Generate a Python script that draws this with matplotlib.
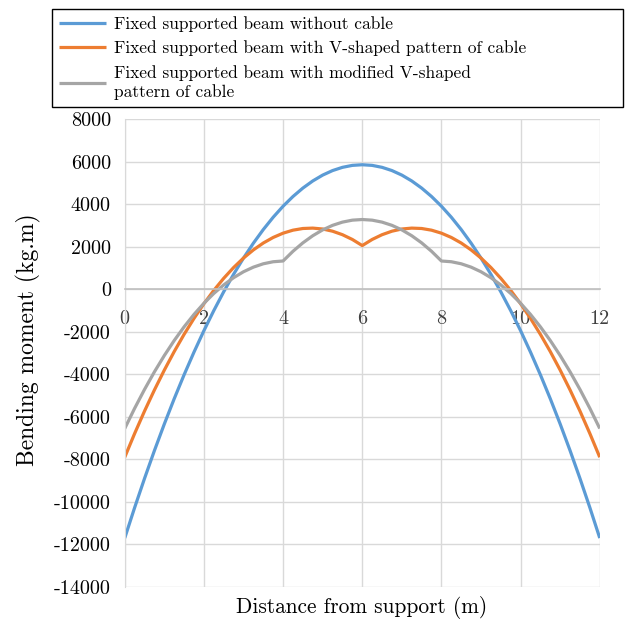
import matplotlib
matplotlib.use('Agg')
import matplotlib.pyplot as plt

# Momento fletor ao longo da viga, passo de 0.25 m
distancia = [0, 0.25, 0.5, 0.75, 1, 1.25, 1.5, 1.75, 2, 2.25, 2.5, 2.75, 3,
             3.25, 3.5, 3.75, 4, 4.25, 4.5, 4.75, 5, 5.25, 5.5, 5.75, 6,
             6.25, 6.5, 6.75, 7, 7.25, 7.5, 7.75, 8, 8.25, 8.5, 8.75, 9,
             9.25, 9.5, 9.75, 10, 10.25, 10.5, 10.75, 11, 11.25, 11.5, 11.75, 12]
sem_cabo = [-11700, -10268, -8897, -7587, -6338, -5149, -4022, -2956, -1950, -1006, -122, 701, 1463,
            2163, 2803, 3382, 3900, 4357, 4753, 5088, 5363, 5576, 5728, 5820, 5850,
            5820, 5728, 5576, 5363, 5088, 4753, 4357, 3900, 3382, 2803, 2163, 1463,
            701, -122, -1006, -1950, -2956, -4022, -5149, -6338, -7587, -8897, -10268, -11700]
cabo_v = [-7900, -6785, -5730, -4737, -3804, -2932, -2122, -1373, -683, -56, 511, 1018, 1463,
          1846, 2170, 2432, 2633, 2774, 2853, 2871, 2829, 2726, 2561, 2337, 2050,
          2337, 2561, 2726, 2829, 2871, 2853, 2774, 2633, 2432, 2170, 1846, 1463,
          1018, 511, -56, -683, -1373, -2122, -2932, -3804, -4737, -5730, -6785, -7900]
cabo_v_mod = [-6550, -5601, -4713, -3885, -3119, -2413, -1769, -1186, -663, -201, 200, 540, 819,
              1036, 1194, 1290, 1325, 1782, 2178, 2513, 2788, 3001, 3153, 3245, 3275,
              3245, 3153, 3001, 2788, 2513, 2178, 1782, 1325, 1290, 1194, 1036, 819,
              540, 200, -201, -663, -1186, -1769, -2413, -3119, -3885, -4713, -5601, -6550]

rotulos = ['Fixed supported beam without cable',
           'Fixed supported beam with V-shaped pattern of cable',
           'Fixed supported beam with modified V-shaped\npattern of cable']
cores = ['#5B9BD5', '#ED7D31', '#A5A5A5']

x_ticks = [0, 2, 4, 6, 8, 10, 12]
y_ticks = [8000, 6000, 4000, 2000, 0, -2000, -4000, -6000, -8000, -10000, -12000, -14000]

plt.rcParams['font.family'] = ['cmr10', 'DejaVu Serif']
plt.rcParams['axes.unicode_minus'] = False

fig = plt.figure(figsize=(6.3, 6.28), dpi=100)
ax = fig.add_axes([0.198, 0.0653, 0.754, 0.7452])

linhas = []
for serie, cor, rot in zip([sem_cabo, cabo_v, cabo_v_mod], cores, rotulos):
    l, = ax.plot(distancia, serie, color=cor, linewidth=2.3, label=rot,
                 solid_capstyle='butt', solid_joinstyle='round')
    linhas.append(l)

ax.set_xlim(0, 12)
ax.set_ylim(-14000, 8000)
ax.set_xticks(x_ticks)
ax.set_xticklabels([str(t) for t in x_ticks])
ax.set_yticks(y_ticks)
ax.set_yticklabels([str(t) for t in y_ticks])
ax.grid(True, color='#d9d9d9', linewidth=1)
ax.set_axisbelow(True)

for s in ['top', 'right']:
    ax.spines[s].set_visible(False)
ax.spines['left'].set_color('#d9d9d9')
ax.spines['bottom'].set_position(('data', 0))
ax.spines['bottom'].set_color('#bfbfbf')
ax.spines['bottom'].set_linewidth(1.2)
ax.tick_params(length=0, labelsize=14.5, colors='#404040')
ax.tick_params(axis='y', pad=10, labelcolor='black')
ax.tick_params(axis='x', pad=15)

fig.text(0.045, 0.459, 'Bending moment (kg.m)', rotation=90, ha='center', va='center', fontsize=17)
fig.text(0.574, 0.033, 'Distance from support (m)', ha='center', va='center', fontsize=15.4)

leg = fig.legend(handles=linhas, loc='upper left', bbox_to_anchor=(0.0825, 0.83, 0.906, 0.1557),
                 mode='expand', borderaxespad=0, fontsize=12.5, handlelength=2.7,
                 handletextpad=0.45, labelspacing=0.5, borderpad=0.4,
                 fancybox=False, framealpha=1, edgecolor='black')
leg.get_frame().set_linewidth(1.0)
for t in leg.get_texts():
    t.set_linespacing(1.3)

plt.savefig('out.png', dpi=100)
